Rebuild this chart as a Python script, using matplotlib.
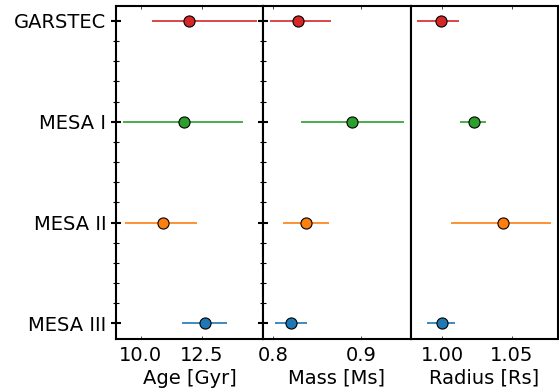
import matplotlib
matplotlib.use("Agg")
import matplotlib.pyplot as plt
from matplotlib.ticker import MultipleLocator

# Model grids, bottom to top
models = ["MESA III", "MESA II", "MESA I", "GARSTEC"]
colors = ["tab:blue", "tab:orange", "tab:green", "tab:red"]

# Age [Gyr]: value, lower error, upper error
age = [12.63, 10.92, 11.75, 11.96]
age_lo = [0.93, 1.57, 2.48, 1.51]
age_hi = [0.88, 1.38, 2.41, 2.76]

# Mass [Ms]
mass = [0.8202, 0.8374, 0.8900, 0.8285]
mass_lo = [0.0183, 0.0267, 0.0584, 0.0323]
mass_hi = [0.0178, 0.0256, 0.0590, 0.0368]

# Radius [Rs]
radius = [0.9996, 1.0439, 1.0227, 0.9991]
radius_lo = [0.0103, 0.0377, 0.0098, 0.0169]
radius_hi = [0.0097, 0.0344, 0.0091, 0.0129]

panels = [
    ("Age [Gyr]", age, age_lo, age_hi, [10.0, 12.5]),
    ("Mass [Ms]", mass, mass_lo, mass_hi, [0.8, 0.9]),
    ("Radius [Rs]", radius, radius_lo, radius_hi, [1.00, 1.05]),
]

fig, axes = plt.subplots(1, 3, sharey=True, figsize=(5.59, 3.91), dpi=100)
fig.subplots_adjust(left=0.2075, right=0.998, top=0.985, bottom=0.134, wspace=0)

ypos = list(range(len(models)))

for i, (ax, (label, vals, lo, hi, ticks)) in enumerate(zip(axes, panels)):
    for y, v, l, h, c in zip(ypos, vals, lo, hi, colors):
        ax.errorbar(v, y, xerr=[[l], [h]], fmt="o", color=c, ecolor=c,
                    markersize=8, markeredgecolor="black", markeredgewidth=0.8,
                    elinewidth=1.2, capsize=0)
    ax.set_xticks(ticks)
    ax.set_xlabel(label, fontsize=14, labelpad=3)
    ax.tick_params(axis="x", which="major", direction="in", length=2.5,
                   width=0.5, top=True, labelsize=14, pad=5)
    for s in ax.spines.values():
        s.set_linewidth(1.5)
    if i < 2:
        ax.tick_params(axis="y", which="major", direction="inout", length=7,
                       width=1.5)
        ax.tick_params(axis="y", which="minor", direction="inout", length=5,
                       width=0.8)
    else:
        ax.tick_params(axis="y", which="both", left=False)

axes[0].set_yticks(ypos)
axes[0].set_yticklabels(models, fontsize=14)
axes[0].yaxis.set_minor_locator(MultipleLocator(0.2))
axes[0].set_ylim(-0.15, 3.15)

fig.savefig("out.png", dpi=100)
